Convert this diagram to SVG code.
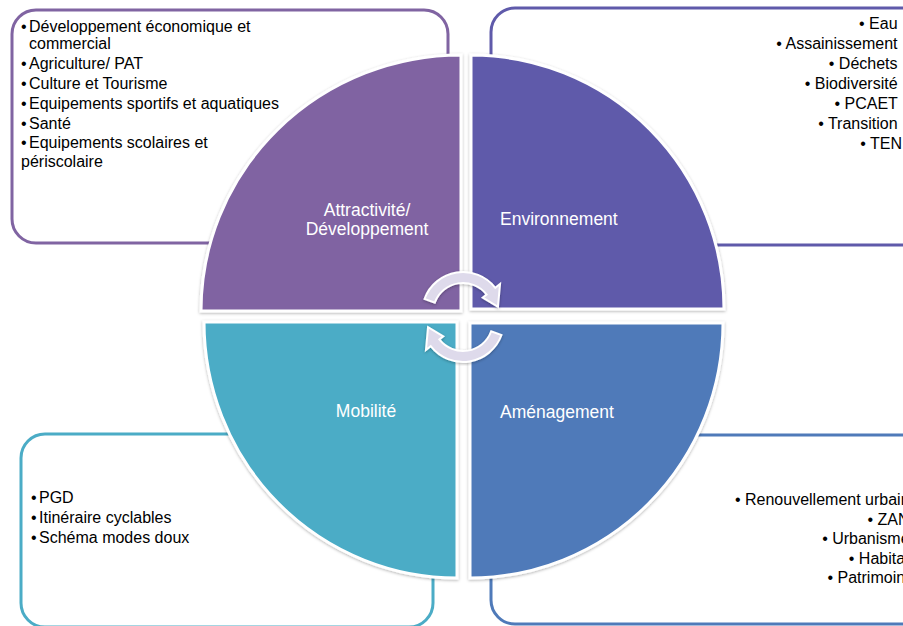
<svg xmlns="http://www.w3.org/2000/svg" width="903" height="626" viewBox="0 0 903 626">
<defs>
<style>
.box{fill:#fff;stroke-width:3}
.t{font-family:"Liberation Sans",Arial,sans-serif;font-size:16px;fill:#000}
.lbl{font-family:"Liberation Sans",Arial,sans-serif;font-size:17.5px;fill:#fff}
.q{stroke:#fff;stroke-width:3;filter:url(#sh)}
.arr{fill:#DEDAEB;stroke:#fff;stroke-width:2;filter:url(#sh)}
</style>
<filter id="sh" x="-10%" y="-10%" width="120%" height="120%">
<feDropShadow dx="0" dy="1" stdDeviation="1.5" flood-color="#000" flood-opacity="0.3"/>
</filter>
</defs>
<rect width="903" height="626" fill="#fff"/>

<g id="box-attractivite">
<rect class="box" x="12" y="10" width="436" height="233" rx="24" stroke="#8064A2"/>
<text class="t">
<tspan x="21" y="32">•</tspan><tspan x="29" y="32">Développement économique et</tspan>
<tspan x="29" y="49">commercial</tspan>
<tspan x="21" y="69">•</tspan><tspan x="29" y="69">Agriculture/ PAT</tspan>
<tspan x="21" y="89">•</tspan><tspan x="29" y="89">Culture et Tourisme</tspan>
<tspan x="21" y="109">•</tspan><tspan x="29" y="109">Equipements sportifs et aquatiques</tspan>
<tspan x="21" y="129">•</tspan><tspan x="29" y="129">Santé</tspan>
<tspan x="21" y="148">•</tspan><tspan x="29" y="148">Equipements scolaires et</tspan>
<tspan x="21" y="167">périscolaire</tspan>
</text>
</g>

<g id="box-environnement">
<rect class="box" x="491" y="8" width="440" height="237" rx="24" stroke="#5F5AAA"/>
<text class="t" text-anchor="end">
<tspan x="902" y="29">• Eau</tspan>
<tspan x="902" y="49">• Assainissement</tspan>
<tspan x="902" y="69">• Déchets</tspan>
<tspan x="902" y="89">• Biodiversité</tspan>
<tspan x="902" y="109">• PCAET</tspan>
<tspan x="902" y="129">• Transition</tspan>
<tspan x="902" y="149">• TEN</tspan>
</text>
</g>

<g id="box-mobilite">
<rect class="box" x="21" y="434" width="412" height="193" rx="24" stroke="#4BACC6"/>
<text class="t">
<tspan x="31" y="503">•</tspan><tspan x="39" y="503">PGD</tspan>
<tspan x="31" y="523">•</tspan><tspan x="39" y="523">Itinéraire cyclables</tspan>
<tspan x="31" y="543">•</tspan><tspan x="39" y="543">Schéma modes doux</tspan>
</text>
</g>

<g id="box-amenagement">
<rect class="box" x="491" y="435" width="440" height="189" rx="24" stroke="#4F7AB9"/>
<text class="t" text-anchor="end">
<tspan x="914" y="505">• Renouvellement urbain</tspan>
<tspan x="914" y="525">• ZAN</tspan>
<tspan x="914" y="544">• Urbanisme</tspan>
<tspan x="914" y="564">• Habitat</tspan>
<tspan x="914" y="583">• Patrimoine</tspan>
</text>
</g>

<g id="q-attractivite">
<path class="q" fill="#8064A2" d="M461,311 L201,311 A260,256 0 0 1 461,55 Z"/>
<text class="lbl" text-anchor="middle"><tspan x="367" y="216">Attractivité/</tspan><tspan x="367" y="235">Développement</tspan></text>
</g>
<g id="q-environnement">
<path class="q" fill="#5F5AAA" d="M471,309 L471,55 A253,254 0 0 1 724,309 Z"/>
<text class="lbl" x="500" y="225">Environnement</text>
</g>
<g id="q-mobilite">
<path class="q" fill="#4BACC6" d="M457,322 L457,578 A253,256 0 0 1 204,322 Z"/>
<text class="lbl" x="366" y="417" text-anchor="middle">Mobilité</text>
</g>
<g id="q-amenagement">
<path class="q" fill="#4F7AB9" d="M470,323 L723,323 A253,255 0 0 1 470,578 Z"/>
<text class="lbl" x="500" y="418">Aménagement</text>
</g>

<g id="connectors">
<path class="arr" d="M424.47,298.98 A41,41 0 0 1 495.31,287.76 L500.04,284.06 L497.96,306.84 L482.70,297.61 L486.64,294.53 A30,30 0 0 0 434.81,302.74 Z"/>
<path class="arr" d="M501.53,335.02 A41,41 0 0 1 430.69,346.24 L425.96,349.94 L428.04,327.16 L443.30,336.39 L439.36,339.47 A30,30 0 0 0 491.19,331.26 Z"/>
</g>
</svg>
